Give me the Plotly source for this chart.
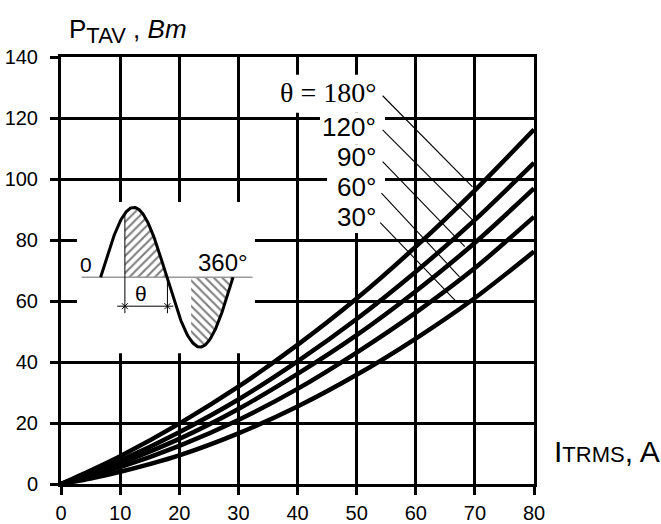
import numpy as np
import plotly.graph_objects as go

# ---- data ----
I_RMS = [0, 5, 10, 20, 30, 40, 50, 60, 70, 80]
P_180 = [0, 4.4, 9.1, 19.8, 31.9, 45.6, 60.8, 77.8, 96.3, 116.2]
P_120 = [0, 3.7, 7.7, 17.0, 27.7, 40.2, 54.1, 69.6, 86.6, 105.3]
P_90 = [0, 3.3, 6.8, 14.8, 24.6, 36.1, 48.8, 63.2, 79.1, 96.9]
P_60 = [0, 2.7, 5.5, 12.5, 21.0, 31.2, 43.1, 56.2, 70.8, 87.6]
P_30 = [0, 1.8, 4.0, 9.4, 16.6, 25.4, 35.8, 47.7, 61.0, 76.2]

X_TICKS = [0, 10, 20, 30, 40, 50, 60, 70, 80]
Y_TICKS = [0, 20, 40, 60, 80, 100, 120, 140]

ANGLE_LABELS = ["θ = 180°", "120°", "90°", "60°", "30°"]
LABEL_Y = [128.2, 117.2, 107.2, 97.3, 87.6]
LABEL_X = 53.6
LEADER_X0 = [54.4, 54.4, 54.4, 54.2, 54.0]
LEADER_Y0 = [127.3, 116.1, 105.7, 95.4, 85.7]
LEADER_X1 = [69.6, 69.6, 68.3, 67.4, 66.9]
LEADER_Y1 = [97.4, 86.6, 77.8, 67.9, 59.7]

# inset waveform (schematic)
WAVE_X0, WAVE_X1 = 6.7, 29.1      # 0 deg and 360 deg positions
WAVE_BASE, WAVE_AMP = 67.8, 22.9
FIRING_DEG = 66
BASELINE_X = [3.5, 32.4]

# white patches that interrupt the grid
MASKS = [
    (2.7, 32.8, 42.9, 92.5),
    (37.0, 54.8, 121.7, 134.2),
    (43.8, 54.8, 111.2, 121.7),
    (45.0, 54.8, 82.3, 111.2),
]

SANS = "Liberation Sans, Arial, sans-serif"
SERIF = "Liberation Serif, Times New Roman, serif"

fig = go.Figure()

for ys in [P_180, P_120, P_90, P_60, P_30]:
    fig.add_trace(go.Scatter(x=I_RMS, y=ys, mode="lines",
                             line=dict(color="black", width=4.5, shape="spline", smoothing=0.8),
                             hoverinfo="skip", showlegend=False))

# leader lines
for x0, y0, x1, y1 in zip(LEADER_X0, LEADER_Y0, LEADER_X1, LEADER_Y1):
    fig.add_trace(go.Scatter(x=[x0, x1], y=[y0, y1], mode="lines",
                             line=dict(color="black", width=1.1),
                             hoverinfo="skip", showlegend=False))


def wave(deg):
    deg = np.asarray(deg, dtype=float)
    x = WAVE_X0 + (WAVE_X1 - WAVE_X0) * deg / 360.0
    y = WAVE_BASE + WAVE_AMP * np.sin(np.radians(deg))
    return x, y


# hatched areas
for a0, a1, pat in [(FIRING_DEG, 180, "/"), (180 + FIRING_DEG, 360, "\\")]:
    d = np.linspace(a0, a1, 60)
    wx, wy = wave(d)
    px = list(wx) + [wx[-1], wx[0], wx[0]]
    py = list(wy) + [WAVE_BASE, WAVE_BASE, wy[0]]
    fig.add_trace(go.Scatter(x=px, y=py, mode="lines", fill="toself",
                             fillcolor="white", line=dict(width=0, color="rgba(0,0,0,0)"),
                             fillpattern=dict(shape=pat, size=6, solidity=0.35,
                                              fgcolor="black", bgcolor="white"),
                             hoverinfo="skip", showlegend=False))

# baseline
fig.add_trace(go.Scatter(x=BASELINE_X, y=[WAVE_BASE, WAVE_BASE], mode="lines",
                         line=dict(color="#999999", width=1.5),
                         hoverinfo="skip", showlegend=False))

# waveform
d = np.linspace(0, 360, 200)
wx, wy = wave(d)
fig.add_trace(go.Scatter(x=wx, y=wy, mode="lines", line=dict(color="black", width=3),
                         hoverinfo="skip", showlegend=False))

# theta dimension
fx, fy = wave([FIRING_DEG])
ex, _ = wave([180])
dim_y = 58.3
fig.add_trace(go.Scatter(x=[fx[0], fx[0]], y=[fy[0], 56.0], mode="lines",
                         line=dict(color="black", width=1), hoverinfo="skip", showlegend=False))
fig.add_trace(go.Scatter(x=[ex[0] + 0.1, ex[0] + 0.1], y=[WAVE_BASE, 56.0], mode="lines",
                         line=dict(color="black", width=1), hoverinfo="skip", showlegend=False))
fig.add_trace(go.Scatter(x=[fx[0] - 1.3, ex[0] + 1.1], y=[dim_y, dim_y], mode="lines",
                         line=dict(color="black", width=1), hoverinfo="skip", showlegend=False))
fig.add_trace(go.Scatter(x=[fx[0], ex[0] + 0.1], y=[dim_y, dim_y], mode="markers",
                         marker=dict(symbol="x-thin", size=6, line=dict(color="black", width=1)),
                         hoverinfo="skip", showlegend=False))

shapes = []
for x0, x1, y0, y1 in MASKS:
    shapes.append(dict(type="rect", xref="x", yref="y", x0=x0, x1=x1, y0=y0, y1=y1,
                       fillcolor="white", line=dict(width=0), layer="between"))

annotations = []
for txt, y in zip(ANGLE_LABELS, LABEL_Y):
    fam = SERIF if txt.startswith("θ") else SANS
    size = 28 if txt.startswith("θ") else 26
    annotations.append(dict(x=LABEL_X, y=y, xref="x", yref="y", text=txt, showarrow=False,
                            xanchor="right", yanchor="middle",
                            font=dict(family=fam, size=size, color="black")))

annotations += [
    dict(x=4.3, y=72.1, xref="x", yref="y", text="0", showarrow=False,
         font=dict(family=SANS, size=21, color="black")),
    dict(x=27.4, y=72.6, xref="x", yref="y", text="360°", showarrow=False,
         font=dict(family=SANS, size=24, color="black")),
    dict(x=13.6, y=62.6, xref="x", yref="y", text="θ", showarrow=False,
         font=dict(family=SANS, size=21, color="black")),
    dict(x=0.0127, y=1.062, xref="paper", yref="paper",
         text='P<sub><span style="font-size:22px">TAV</span></sub> , <i>Bm</i>',
         showarrow=False, xanchor="left", yanchor="middle",
         font=dict(family=SANS, size=26, color="black")),
    dict(x=1.038, y=0.075, xref="paper", yref="paper",
         text='I<span style="font-size:22px">TRMS</span>, A',
         showarrow=False, xanchor="left", yanchor="middle",
         font=dict(family=SANS, size=30, color="black")),
]

axis_common = dict(showgrid=True, gridcolor="black", gridwidth=3,
                   showline=True, linecolor="black", linewidth=3, mirror=True,
                   ticks="outside", ticklen=8, tickwidth=3, tickcolor="black",
                   zeroline=False, automargin=False,
                   tickfont=dict(family=SANS, size=20, color="black"))

fig.update_layout(
    width=661, height=524,
    margin=dict(l=61, r=127, t=57, b=40),
    paper_bgcolor="white", plot_bgcolor="white",
    xaxis=dict(range=[0, 80], tickvals=X_TICKS, ticklabelstandoff=1, **axis_common),
    yaxis=dict(range=[0, 140], tickvals=Y_TICKS, ticklabelstandoff=8, **axis_common),
    shapes=shapes, annotations=annotations, showlegend=False,
)

fig.write_html("out.html")
